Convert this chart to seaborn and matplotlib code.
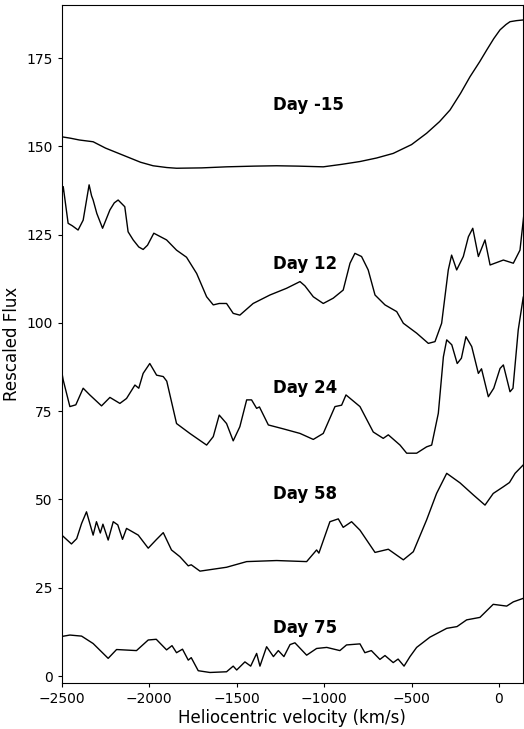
import numpy as np
import pandas as pd
import seaborn as sns
import matplotlib
matplotlib.use("Agg")
import matplotlib.pyplot as plt

# spectra (velocity in km/s, rescaled flux)
vel_m15 = [-2500, -2450, -2400, -2321, -2250, -2130, -2050, -1978, -1900, -1844, -1700,
           -1558, -1400, -1272, -1150, -1005, -900, -795, -700, -605, -500, -414,
           -340, -280, -220, -166, -110, -70, -30, 6, 40, 63, 100, 140]
flux_m15 = [152.7, 152.3, 151.8, 151.3, 149.5, 147.1, 145.5, 144.5, 144.0, 143.8, 143.9,
            144.2, 144.4, 144.5, 144.4, 144.2, 144.9, 145.7, 146.7, 148.0, 150.5, 153.7,
            157.0, 160.3, 165.0, 169.7, 174.0, 177.3, 180.5, 183.0, 184.5, 185.3, 185.6, 185.8]

vel_12 = [-2500, -2492, -2464, -2440, -2407, -2378, -2344, -2330, -2321, -2300, -2267,
          -2225, -2200, -2178, -2140, -2121, -2092, -2060, -2035, -2010, -1974, -1901,
          -1844, -1787, -1729, -1672, -1634, -1600, -1558, -1520, -1482, -1406, -1310,
          -1215, -1138, -1110, -1062, -1005, -948, -891, -852, -824, -786, -748, -709,
          -652, -585, -547, -471, -404, -366, -328, -290, -271, -242, -204, -175, -150,
          -118, -80, -51, 25, 82, 120, 143]
flux_12 = [136.0, 138.6, 128.2, 127.5, 126.3, 129.1, 139.1, 136.0, 134.8, 131.0, 126.8,
           132.0, 134.0, 134.8, 132.9, 125.8, 123.5, 121.5, 120.8, 122.0, 125.4, 123.5,
           120.6, 118.6, 114.0, 107.4, 105.1, 105.5, 105.5, 102.7, 102.2, 105.5, 107.9,
           109.8, 111.7, 110.5, 107.4, 105.5, 107.0, 109.3, 116.9, 119.7, 118.8, 115.0, 107.9,
           105.1, 103.2, 99.9, 97.1, 94.2, 94.7, 99.9, 115.0, 119.2, 115.0, 118.8, 124.4, 126.8,
           118.8, 123.5, 116.4, 117.8, 116.9, 120.6, 131.0]

vel_24 = [-2500, -2492, -2454, -2420, -2378, -2340, -2273, -2225, -2168, -2130, -2082,
          -2060, -2035, -1997, -1958, -1920, -1900, -1844, -1768, -1672, -1634, -1600,
          -1558, -1520, -1482, -1443, -1415, -1386, -1370, -1319, -1234, -1138, -1062,
          -1005, -938, -900, -875, -795, -719, -662, -633, -566, -528, -471, -414, -385,
          -347, -318, -299, -270, -239, -215, -189, -156, -118, -100, -61, -30, 6, 25,
          63, 80, 110, 139]
flux_24 = [86.0, 83.8, 76.3, 76.8, 81.5, 79.6, 76.5, 78.9, 77.2, 78.6, 82.4,
           81.5, 85.7, 88.5, 85.2, 84.8, 83.5, 71.5, 68.7, 65.4, 67.8, 73.9,
           71.5, 66.6, 70.6, 78.2, 78.2, 75.8, 76.2, 71.1, 70.0, 68.7, 67.0,
           68.7, 76.3, 76.7, 79.6, 76.3, 69.1, 67.3, 68.3, 65.4, 63.1, 63.1, 64.9, 65.4,
           74.4, 90.4, 95.2, 93.8, 88.5, 90.0, 96.1, 93.3, 85.7, 87.0, 79.1, 81.5, 87.1, 88.1,
           80.5, 81.5, 98.0, 107.4]

vel_58 = [-2500, -2445, -2415, -2387, -2359, -2321, -2302, -2280, -2265, -2235, -2206,
          -2180, -2153, -2130, -2063, -2006, -1960, -1920, -1873, -1825, -1777, -1760,
          -1710, -1558, -1443, -1272, -1100, -1043, -1030, -967, -919, -891, -843, -795,
          -709, -633, -547, -490, -414, -357, -299, -223, -147, -80, -33, 25, 60, 92, 139]
flux_58 = [39.9, 37.4, 38.9, 43.2, 46.5, 39.9, 43.7, 40.5, 43.0, 38.5, 43.7,
           42.8, 38.7, 41.8, 39.9, 36.2, 38.6, 40.6, 35.7, 33.8, 31.2, 31.5,
           29.7, 30.8, 32.4, 32.7, 32.4, 35.7, 34.8, 43.7, 44.5, 42.1, 43.7, 41.3,
           35.0, 35.9, 32.9, 35.2, 44.2, 51.7, 57.4, 54.7, 51.3, 48.4, 51.7, 53.6, 54.8, 57.4, 59.8]

vel_75 = [-2500, -2454, -2387, -2321, -2235, -2187, -2073, -2006, -1960, -1901, -1870,
          -1844, -1810, -1777, -1760, -1720, -1653, -1558, -1520, -1500, -1453, -1420,
          -1386, -1367, -1329, -1290, -1262, -1230, -1195, -1167, -1100, -1043, -985,
          -910, -872, -795, -767, -730, -681, -652, -605, -577, -543, -509, -471, -395,
          -299, -240, -185, -109, -33, 44, 82, 139]
flux_75 = [11.2, 11.6, 11.3, 9.2, 5.0, 7.5, 7.2, 10.2, 10.4, 7.4, 8.6,
           6.6, 7.6, 4.5, 5.2, 1.5, 1.0, 1.2, 2.8, 1.7, 4.0, 2.8,
           6.4, 2.8, 8.3, 5.5, 7.2, 5.5, 8.9, 9.4, 5.9, 7.8, 8.1,
           7.2, 8.8, 9.1, 6.6, 7.2, 4.7, 5.8, 3.8, 4.8, 2.8, 5.5, 8.1, 11.0,
           13.5, 14.0, 15.9, 16.6, 20.3, 19.8, 21.0, 22.0]

labels = ["Day -15", "Day 12", "Day 24", "Day 58", "Day 75"]
label_y = [161.7, 116.6, 81.5, 51.5, 13.5]
label_x = -1290

spectra = [(vel_m15, flux_m15), (vel_12, flux_12), (vel_24, flux_24),
           (vel_58, flux_58), (vel_75, flux_75)]

sns.set_style("ticks")
plt.rcParams["font.family"] = ["DejaVu Sans"]
plt.rcParams["text.color"] = "black"
plt.rcParams["axes.labelcolor"] = "black"
plt.rcParams["xtick.color"] = "black"
plt.rcParams["ytick.color"] = "black"
plt.rcParams["xtick.labelsize"] = 10
plt.rcParams["ytick.labelsize"] = 10

fig, ax = plt.subplots(figsize=(5.24, 7.29), dpi=100)
fig.subplots_adjust(left=0.118, right=0.998, top=0.993, bottom=0.063)

for (v, f), lab, ly in zip(spectra, labels, label_y):
    df = pd.DataFrame({"vel": v, "flux": f})
    sns.lineplot(data=df, x="vel", y="flux", color="black", lw=1.0,
                 estimator=None, sort=False, ax=ax)
    ax.text(label_x, ly, lab, fontsize=12, fontweight="bold", va="center", ha="left")

ax.set_xlim(-2500, 137)
ax.set_ylim(-2, 190)
ax.set_xticks([-2500, -2000, -1500, -1000, -500, 0])
ax.set_yticks([0, 25, 50, 75, 100, 125, 150, 175])
ax.set_xlabel("Heliocentric velocity (km/s)", fontsize=12, labelpad=2)
ax.set_ylabel("Rescaled Flux", fontsize=12, labelpad=4)
for s in ax.spines.values():
    s.set_color("black")
    s.set_linewidth(0.8)
ax.tick_params(length=3, width=0.8, pad=3.5)

fig.savefig("out.png", dpi=100)
